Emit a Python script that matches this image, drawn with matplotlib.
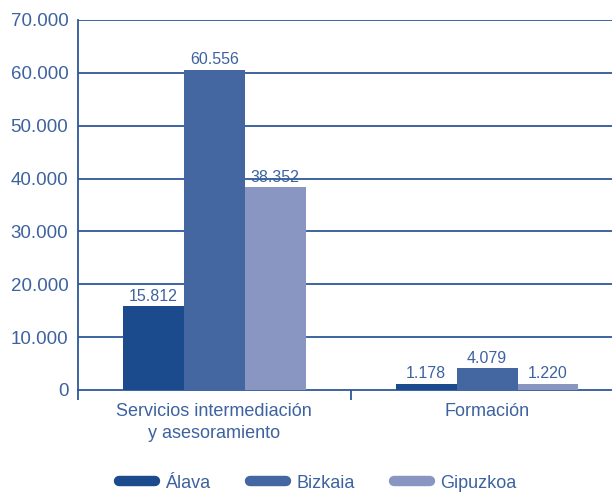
import matplotlib.pyplot as plt
from matplotlib.lines import Line2D
import numpy as np

plt.rcParams['font.family'] = ['Liberation Sans', 'DejaVu Sans']

categories = ['Servicios intermediación\ny asesoramiento', 'Formación']
series = ['Álava', 'Bizkaia', 'Gipuzkoa']
alava = [15812, 1178]
bizkaia = [60556, 4079]
gipuzkoa = [38352, 1220]
colors = ['#1b4b8c', '#4466a1', '#8896c1']
txt = '#3d62a0'
line_col = '#2d5898'

fig = plt.figure(figsize=(6.12, 4.93), dpi=100)
ax = fig.add_axes([78 / 612, 1 - 390 / 493, 545.5 / 612, 370 / 493])

x = np.arange(len(categories))
w = 0.223
for i, (vals, c) in enumerate(zip([alava, bizkaia, gipuzkoa], colors)):
    pos = x + (i - 1) * w
    bars = ax.bar(pos, vals, width=w, color=c, zorder=3)
    for p, v in zip(pos, vals):
        ax.text(p, v + 500, f'{v:,}'.replace(',', '.'), ha='center', va='bottom',
                fontsize=11.5, color=txt, zorder=4)

ax.set_xlim(-0.5, 1.5)
ax.set_ylim(0, 70000)
yt = np.arange(0, 70001, 10000)
ax.set_yticks(yt)
ax.set_yticklabels([f'{v:,}'.replace(',', '.') for v in yt], fontsize=13.5, color=txt)
for v in yt[1:]:
    ax.axhline(v, color=line_col, lw=1.3, zorder=1)
ax.tick_params(axis='y', length=0, pad=7)

ax.set_xticks([-0.5, 0.5, 1.5])
ax.set_xticklabels([])
ax.tick_params(axis='x', which='major', length=7, width=1.3, color=line_col, direction='out')
ax.set_xticks(x, minor=True)
ax.set_xticklabels(categories, minor=True, fontsize=13, color=txt, linespacing=1.45)
ax.tick_params(axis='x', which='minor', length=0, pad=9)

for s in ['top', 'right']:
    ax.spines[s].set_visible(False)
for s in ['left', 'bottom']:
    ax.spines[s].set_color(line_col)
    ax.spines[s].set_linewidth(1.3)

handles = [Line2D([], [], color=c, lw=7.5, solid_capstyle='round') for c in colors]
fig.legend(handles, series, loc='center', bbox_to_anchor=(318 / 612, 1 - 483 / 493),
           ncol=3, frameon=False, fontsize=13, handlelength=2.0, columnspacing=2.2,
           handletextpad=0.55, labelcolor=txt)

fig.savefig('out.png', dpi=100)
